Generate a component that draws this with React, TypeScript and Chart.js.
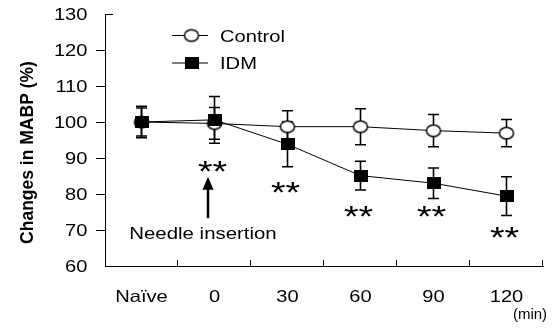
import { useEffect, useRef } from "react";
import { Chart, registerables } from "chart.js";

Chart.register(...registerables);

// Time points after treatment
const categories = ["Naïve", "0", "30", "60", "90", "120"];

// Mean arterial blood pressure, % of baseline (mean ± SEM)
const controlMean = [100, 99.6, 98.7, 98.7, 97.6, 96.9];
const controlSem = [3.9, 4.4, 4.4, 5.0, 4.5, 3.8];
const idmMean = [100, 100.6, 93.8, 85.1, 83.0, 79.4];
const idmSem = [4.4, 6.5, 6.2, 4.0, 4.25, 5.4];

// Y axis range and tick labels
const yMin = 60;
const yMax = 130;
const yTickValues = [60, 70, 80, 90, 100, 110, 120, 130];

// Significance marks under the IDM series (label, value level)
const sigLabels = ["", "**", "**", "**", "**", "**"];
const sigLevels = [0, 88.3, 82.5, 75.7, 75.7, 70.0];

// Needle insertion arrow (category index, tip and tail levels, label level)
const arrowIndex = 1;
const arrowTip = 84.8;
const arrowTail = 73.3;
const arrowLabelLevel = 67.5;
const arrowLabel = "Needle insertion";

const yTitle = "Changes in MABP (%)";
const xUnit = "(min)";
const seriesNames = ["Control", "IDM"];

const FONT = '"Liberation Sans", Arial, sans-serif';
const SX = 1.22; // horizontal text widening

function wideText(
  ctx: CanvasRenderingContext2D,
  text: string,
  x: number,
  y: number,
  font: string,
  align: CanvasTextAlign,
  sx: number
) {
  ctx.save();
  ctx.font = font;
  ctx.fillStyle = "#000";
  ctx.textAlign = align;
  ctx.textBaseline = "alphabetic";
  ctx.translate(x, y);
  ctx.scale(sx, 1);
  ctx.fillText(text, 0, 0);
  ctx.restore();
}

function makeOpenEllipse(): HTMLCanvasElement {
  const c = document.createElement("canvas");
  c.width = 18;
  c.height = 16;
  const g = c.getContext("2d")!;
  g.beginPath();
  g.ellipse(9, 8, 7, 5.8, 0, 0, Math.PI * 2);
  g.fillStyle = "#fff";
  g.fill();
  g.lineWidth = 1.5;
  g.strokeStyle = "#000";
  g.stroke();
  return c;
}

function makeFilledRect(): HTMLCanvasElement {
  const c = document.createElement("canvas");
  c.width = 14;
  c.height = 12;
  const g = c.getContext("2d")!;
  g.fillStyle = "#000";
  g.fillRect(0, 0, 14, 12);
  return c;
}

export default function App() {
  const canvasRef = useRef<HTMLCanvasElement | null>(null);

  useEffect(() => {
    document.body.style.margin = "0";
    const canvas = canvasRef.current;
    if (!canvas) return;

    const circleImg = makeOpenEllipse();
    const squareImg = makeFilledRect();
    const sems = [controlSem, idmSem];

    const decorations = {
      id: "decorations",
      beforeDatasetsDraw(chart: any) {
        const ctx: CanvasRenderingContext2D = chart.ctx;
        const xs = chart.scales.x;
        const ys = chart.scales.y;
        ctx.save();
        ctx.strokeStyle = "#000";
        chart.data.datasets.forEach((ds: any, di: number) => {
          ds.data.forEach((v: number, i: number) => {
            const e = sems[di][i];
            const x = xs.getPixelForValue(i);
            const yTop = ys.getPixelForValue(v + e);
            const yBot = ys.getPixelForValue(v - e);
            ctx.lineWidth = 1.6;
            ctx.beginPath();
            ctx.moveTo(x, yTop);
            ctx.lineTo(x, yBot);
            ctx.stroke();
            ctx.lineWidth = 1.5;
            ctx.beginPath();
            ctx.moveTo(x - 5.5, yTop);
            ctx.lineTo(x + 5.5, yTop);
            ctx.moveTo(x - 5.5, yBot);
            ctx.lineTo(x + 5.5, yBot);
            ctx.stroke();
          });
        });
        ctx.restore();
      },
      afterDraw(chart: any) {
        const ctx: CanvasRenderingContext2D = chart.ctx;
        const xs = chart.scales.x;
        const ys = chart.scales.y;
        const area = chart.chartArea;
        ctx.save();
        ctx.strokeStyle = "#000";
        ctx.lineWidth = 1;

        // y tick marks and labels
        yTickValues.forEach((t) => {
          const y = Math.round(ys.getPixelForValue(t)) + 0.5;
          if (t === yMax) {
            ctx.beginPath();
            ctx.moveTo(area.left, y);
            ctx.lineTo(area.left + 8, y);
            ctx.stroke();
          } else if (t !== yMin) {
            ctx.beginPath();
            ctx.moveTo(area.left - 9, y);
            ctx.lineTo(area.left, y);
            ctx.stroke();
          }
          wideText(ctx, String(t), area.left - 17.5, ys.getPixelForValue(t) + 6, `16.5px ${FONT}`, "right", SX);
        });

        // x tick marks between categories, pointing into the plot
        for (let i = 1; i <= categories.length; i++) {
          const x = Math.round(xs.getPixelForValue(i - 0.5)) - 0.5;
          ctx.beginPath();
          ctx.moveTo(x, area.bottom);
          ctx.lineTo(x, area.bottom - 6);
          ctx.stroke();
        }

        // x labels
        categories.forEach((c, i) => {
          wideText(ctx, c, xs.getPixelForValue(i), area.bottom + 35.5, `16.5px ${FONT}`, "center", SX);
        });
        wideText(ctx, xUnit, area.right - 13, area.bottom + 53, `15px ${FONT}`, "center", 1.0);

        // y title
        ctx.save();
        ctx.font = `bold 17.5px ${FONT}`;
        ctx.fillStyle = "#000";
        ctx.textAlign = "center";
        ctx.textBaseline = "alphabetic";
        ctx.translate(33, 152.5);
        ctx.rotate(-Math.PI / 2);
        ctx.fillText(yTitle, 0, 0);
        ctx.restore();

        // legend
        const legendRows = [
          { y: 35.5, img: circleImg },
          { y: 63, img: squareImg },
        ];
        legendRows.forEach((row, i) => {
          ctx.lineWidth = 1;
          ctx.beginPath();
          ctx.moveTo(172, row.y);
          ctx.lineTo(208, row.y);
          ctx.stroke();
          ctx.drawImage(row.img, 191.5 - row.img.width / 2, row.y - row.img.height / 2);
          wideText(ctx, seriesNames[i], 220, row.y + 6, `16.5px ${FONT}`, "left", SX);
        });

        // significance marks
        sigLabels.forEach((s, i) => {
          if (!s) return;
          const x = xs.getPixelForValue(i) - 2;
          const y = ys.getPixelForValue(sigLevels[i]);
          wideText(ctx, s, x, y + 17, `30px ${FONT}`, "center", 1.25);
        });

        // needle insertion arrow
        const ax = xs.getPixelForValue(arrowIndex) - 6.5;
        const tipY = ys.getPixelForValue(arrowTip);
        const tailY = ys.getPixelForValue(arrowTail);
        ctx.lineWidth = 2.5;
        ctx.beginPath();
        ctx.moveTo(ax, tailY);
        ctx.lineTo(ax, tipY + 12);
        ctx.stroke();
        ctx.fillStyle = "#000";
        ctx.beginPath();
        ctx.moveTo(ax, tipY);
        ctx.lineTo(ax - 5.5, tipY + 13);
        ctx.lineTo(ax + 5.5, tipY + 13);
        ctx.closePath();
        ctx.fill();
        wideText(ctx, arrowLabel, ax - 5, ys.getPixelForValue(arrowLabelLevel), `17px ${FONT}`, "center", 1.2);

        ctx.restore();
      },
    };

    const chart = new Chart(canvas, {
      type: "line",
      data: {
        labels: categories,
        datasets: [
          {
            label: seriesNames[0],
            data: controlMean,
            order: 1,
            borderColor: "#000",
            borderWidth: 1,
            pointStyle: circleImg as any,
            pointRadius: 7,
            pointHoverRadius: 7,
            tension: 0,
          },
          {
            label: seriesNames[1],
            data: idmMean,
            order: 0,
            borderColor: "#000",
            borderWidth: 1,
            pointStyle: squareImg as any,
            pointRadius: 7,
            pointHoverRadius: 7,
            tension: 0,
          },
        ],
      },
      plugins: [decorations],
      options: {
        responsive: false,
        animation: false,
        events: [],
        layout: { padding: { top: 14, right: 12, bottom: 0, left: 0 } },
        plugins: {
          legend: { display: false },
          tooltip: { enabled: false },
          title: { display: false },
        },
        scales: {
          x: {
            type: "category",
            offset: true,
            grid: { display: false, drawTicks: false },
            ticks: { display: false },
            border: { display: true, color: "#000", width: 1 },
            afterFit: (s: any) => {
              s.height = 63;
            },
          },
          y: {
            min: yMin,
            max: yMax,
            grid: { display: false, drawTicks: false },
            ticks: { display: false, stepSize: 10 },
            border: { display: true, color: "#000", width: 1 },
            afterFit: (s: any) => {
              s.width = 105;
            },
          },
        },
      },
    });

    return () => chart.destroy();
  }, []);

  return (
    <div style={{ width: 555, height: 329 }}>
      <canvas ref={canvasRef} width={555} height={329} />
    </div>
  );
}
